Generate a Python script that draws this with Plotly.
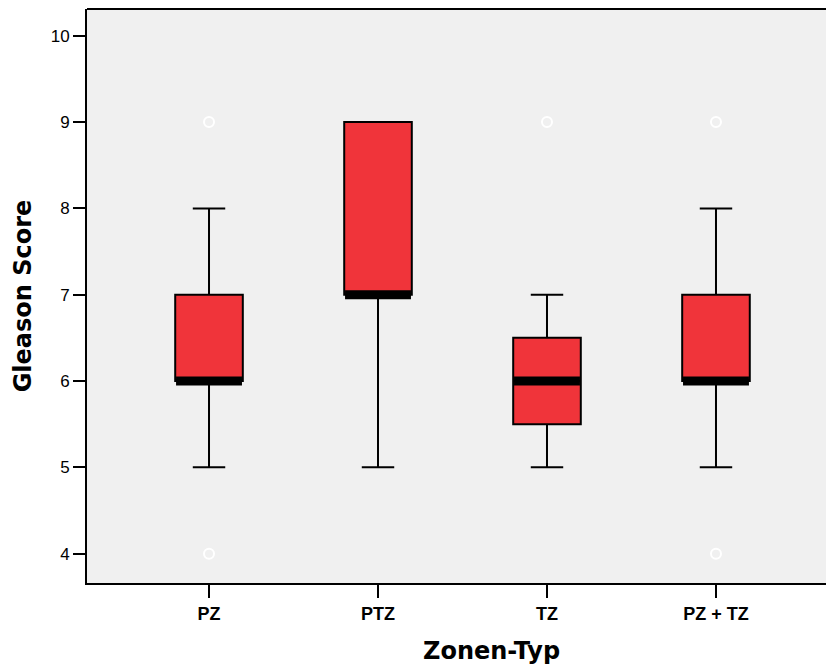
import plotly.graph_objects as go

categories = ["PZ", "PTZ", "TZ", "PZ + TZ"]
q1 = [6, 7, 5.5, 6]
median = [6, 7, 6, 6]
q3 = [7, 9, 6.5, 7]
lower_whisker = [5, 5, 5, 5]
upper_whisker = [8, 9, 7, 8]
outlier_cat = [0, 0, 2, 3, 3]
outlier_val = [9, 4, 9, 9, 4]
y_ticks = [4, 5, 6, 7, 8, 9, 10]

xpos = list(range(len(categories)))
BW = 0.4
RED = "rgb(240,52,58)"
BG = "#f0f0f0"

fig = go.Figure()
fig.add_trace(go.Box(
    x=xpos, q1=q1, median=median, q3=q3,
    lowerfence=lower_whisker, upperfence=upper_whisker,
    width=BW, whiskerwidth=0.48,
    fillcolor=RED, line=dict(color="black", width=2),
    boxpoints=False, showlegend=False, hoverinfo="skip",
))
for i, m in zip(xpos, median):
    fig.add_trace(go.Scatter(
        x=[i - BW / 2 + 0.005, i + BW / 2 - 0.005], y=[m, m], mode="lines",
        line=dict(color="black", width=9), showlegend=False, hoverinfo="skip",
    ))
fig.add_trace(go.Scatter(
    x=outlier_cat, y=outlier_val, mode="markers",
    marker=dict(symbol="circle-open", size=10, color="white", line=dict(color="white", width=2)),
    showlegend=False, hoverinfo="skip",
))

# cover any right-edge frame (the original plot area is cropped on the right)
fig.add_shape(type="rect", xref="paper", yref="paper", x0=0.99, x1=1.02, y0=0.005, y1=0.995,
              fillcolor=BG, line=dict(width=0), layer="above")
fig.add_shape(type="line", xref="paper", yref="paper", x0=0, x1=1.02, y0=1, y1=1,
              line=dict(color="black", width=2), layer="above")

fig.add_annotation(text="<b>Zonen-Typ</b>", xref="paper", yref="paper",
                   x=(491 - 87) / (826 - 87), y=0, yshift=-52, yanchor="top",
                   showarrow=False, font=dict(size=24, family="DejaVu Sans", color="black"))

fig.update_layout(
    width=826, height=666,
    margin=dict(l=87, r=0, t=9, b=83),
    paper_bgcolor="white", plot_bgcolor=BG,
    font=dict(family="Liberation Sans, Arial, sans-serif", color="black"),
    xaxis=dict(
        range=[-0.722, 3.651], tickvals=xpos,
        ticktext=["<b>%s</b>" % c for c in categories],
        tickfont=dict(size=18), ticks="outside", ticklen=13, tickwidth=2, tickcolor="black",
        showline=True, linecolor="black", linewidth=2, mirror=False,
        showgrid=False, zeroline=False,
    ),
    yaxis=dict(
        range=[3.66, 10.31], tickvals=y_ticks,
        tickfont=dict(size=17), ticks="outside", ticklen=12, tickwidth=2, tickcolor="black",
        showline=True, linecolor="black", linewidth=2,
        showgrid=False, zeroline=False,
        title=dict(text="<b>Gleason Score</b>", font=dict(size=24, family="DejaVu Sans"), standoff=12),
    ),
)
fig.write_html("out.html", config={"displayModeBar": False})
